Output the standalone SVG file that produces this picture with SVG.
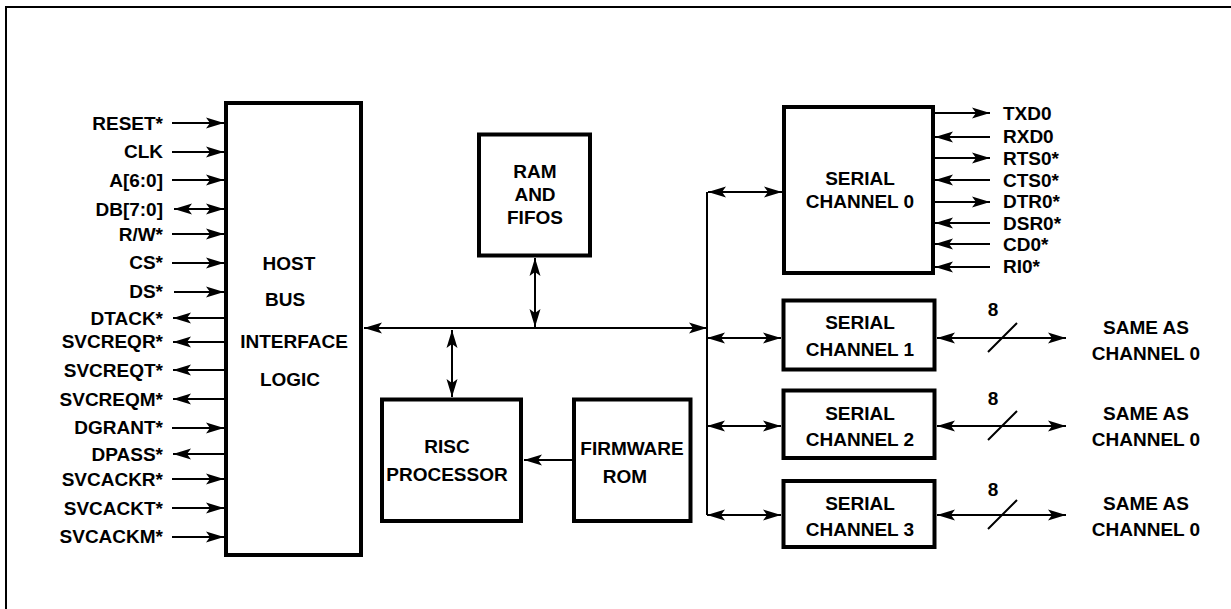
<svg xmlns="http://www.w3.org/2000/svg" width="1231" height="609" viewBox="0 0 1231 609">
<defs>
<marker id="a" markerUnits="userSpaceOnUse" markerWidth="18" markerHeight="12" refX="18" refY="6" orient="auto-start-reverse" overflow="visible">
<path d="M18,6 L0,0.5 L4,6 L0,11.5 Z" fill="#000"/>
</marker>
</defs>
<style>
text{font-family:"Liberation Sans",Arial,sans-serif;font-weight:bold;font-size:19px;fill:#000}
.box{fill:#fff;stroke:#000;stroke-width:4}
.w{stroke:#000;stroke-width:2;fill:none}
.ar{stroke:#000;stroke-width:2;fill:none;marker-end:url(#a)}
.bi{stroke:#000;stroke-width:2;fill:none;marker-start:url(#a);marker-end:url(#a)}
.l{text-anchor:end}
.c{text-anchor:middle}
</style>
<rect width="1231" height="609" fill="#fff"/>
<g id="frame"><path class="w" d="M6,609 V7 H1231"/></g>

<g id="host">
<rect class="box" x="226" y="103" width="135" height="452"/>
<text class="c" x="289" y="270">HOST</text>
<text class="c" x="285" y="306">BUS</text>
<text class="c" x="294" y="348">INTERFACE</text>
<text class="c" x="290" y="386">LOGIC</text>
</g>
<g id="host-labels">
<text class="l" x="163" y="130">RESET*</text>
<text class="l" x="163" y="158">CLK</text>
<text class="l" x="163" y="187">A[6:0]</text>
<text class="l" x="163" y="216">DB[7:0]</text>
<text class="l" x="163" y="241">R/W*</text>
<text class="l" x="163" y="269">CS*</text>
<text class="l" x="163" y="298">DS*</text>
<text class="l" x="163" y="325">DTACK*</text>
<text class="l" x="163" y="348">SVCREQR*</text>
<text class="l" x="163" y="377">SVCREQT*</text>
<text class="l" x="163" y="406">SVCREQM*</text>
<text class="l" x="163" y="434">DGRANT*</text>
<text class="l" x="163" y="461">DPASS*</text>
<text class="l" x="163" y="486">SVCACKR*</text>
<text class="l" x="163" y="515">SVCACKT*</text>
<text class="l" x="163" y="543">SVCACKM*</text>
</g>

<g id="ram">
<rect class="box" x="479" y="134.5" width="111" height="121"/>
<text class="c" x="535" y="178">RAM</text>
<text class="c" x="535" y="201">AND</text>
<text class="c" x="535" y="224">FIFOS</text>
</g>

<g id="risc">
<rect class="box" x="382" y="399.5" width="139" height="121.5"/>
<text class="c" x="447" y="453">RISC</text>
<text class="c" x="447" y="481">PROCESSOR</text>
</g>

<g id="firmware">
<rect class="box" x="574" y="399.5" width="116.5" height="121.5"/>
<text class="c" x="632" y="455">FIRMWARE</text>
<text class="c" x="625" y="483">ROM</text>
</g>

<g id="sc0">
<rect class="box" x="784" y="107" width="149" height="166"/>
<text class="c" x="860" y="185">SERIAL</text>
<text class="c" x="860" y="208">CHANNEL 0</text>
</g>
<g id="sc0-labels">
<text x="1003" y="120">TXD0</text>
<text x="1003" y="143">RXD0</text>
<text x="1003" y="165">RTS0*</text>
<text x="1003" y="187">CTS0*</text>
<text x="1003" y="208">DTR0*</text>
<text x="1003" y="230">DSR0*</text>
<text x="1003" y="251">CD0*</text>
<text x="1003" y="273">RI0*</text>
</g>

<g id="sc1">
<rect class="box" x="783.5" y="300.5" width="151" height="69"/>
<text class="c" x="860" y="329">SERIAL</text>
<text class="c" x="860" y="356">CHANNEL 1</text>
</g>
<g id="sc2">
<rect class="box" x="783.5" y="390.5" width="151" height="67.5"/>
<text class="c" x="860" y="420">SERIAL</text>
<text class="c" x="860" y="446">CHANNEL 2</text>
</g>
<g id="sc3">
<rect class="box" x="783.5" y="481" width="151" height="66"/>
<text class="c" x="860" y="510">SERIAL</text>
<text class="c" x="860" y="536">CHANNEL 3</text>
</g>

<g id="same-labels">
<text class="c" x="993" y="316">8</text>
<text class="c" x="993" y="405">8</text>
<text class="c" x="993" y="496">8</text>
<text class="c" x="1146" y="334">SAME AS</text>
<text class="c" x="1146" y="360">CHANNEL 0</text>
<text class="c" x="1146" y="420">SAME AS</text>
<text class="c" x="1146" y="446">CHANNEL 0</text>
<text class="c" x="1146" y="510">SAME AS</text>
<text class="c" x="1146" y="536">CHANNEL 0</text>
</g>

<g id="connectors">
<path class="ar" d="M172,123 H224"/>
<path class="ar" d="M172,152 H224"/>
<path class="ar" d="M172,180 H224"/>
<path class="bi" d="M174,209 H224"/>
<path class="ar" d="M172,234 H224"/>
<path class="ar" d="M172,263 H224"/>
<path class="ar" d="M174,292 H224"/>
<path class="ar" d="M224,318 H173"/>
<path class="ar" d="M224,342 H173"/>
<path class="ar" d="M224,370 H173"/>
<path class="ar" d="M224,399 H173"/>
<path class="ar" d="M172,428 H224"/>
<path class="ar" d="M224,454 H173"/>
<path class="ar" d="M172,479 H224"/>
<path class="ar" d="M172,508 H224"/>
<path class="ar" d="M172,537 H224"/>

<path class="bi" d="M364,328 H707"/>
<path class="bi" d="M535,258 V327"/>
<path class="bi" d="M452,330 V397"/>
<path class="ar" d="M572,460 H524"/>

<path class="w" d="M707,192 V515"/>
<path class="bi" d="M708,192 H782"/>
<path class="bi" d="M707,338 H781"/>
<path class="bi" d="M707,426 H781"/>
<path class="bi" d="M707,515 H781"/>

<path class="ar" d="M935,113 H990"/>
<path class="ar" d="M990,137 H935"/>
<path class="ar" d="M935,158 H990"/>
<path class="ar" d="M990,180 H935"/>
<path class="ar" d="M935,202 H990"/>
<path class="ar" d="M990,223 H935"/>
<path class="ar" d="M990,244 H935"/>
<path class="ar" d="M990,267 H935"/>

<path class="bi" d="M937,338 H1066"/>
<path class="bi" d="M937,426 H1066"/>
<path class="bi" d="M937,515 H1066"/>
<path class="w" d="M988,352 L1017,323 M988,440 L1017,411 M988,529 L1017,500" stroke-width="1.5"/>
</g>
</svg>
